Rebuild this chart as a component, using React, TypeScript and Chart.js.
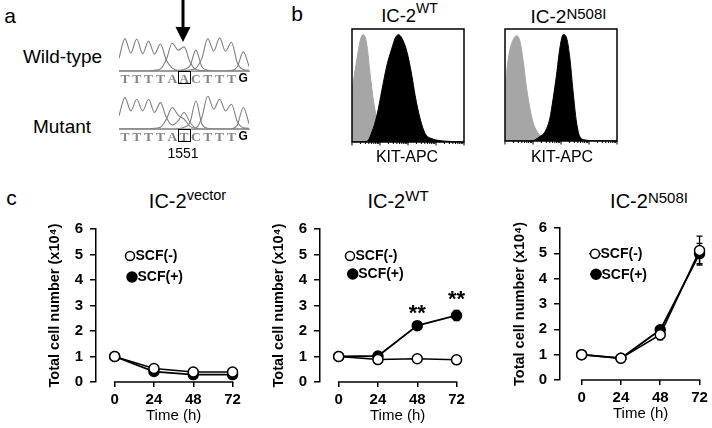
import React, { useEffect, useRef } from "react";
import { Chart, registerables } from "chart.js";

Chart.register(...registerables);

const SANS = '"Liberation Sans", Arial, Helvetica, sans-serif';
const SERIF = '"Liberation Serif", "Times New Roman", serif';
Chart.defaults.font.family = SANS;

// ---------- Panel a: sequencing traces ----------
const wtBases = ["T", "T", "T", "T", "A", "A", "C", "T", "T", "T", "G"];
const mutBases = ["T", "T", "T", "T", "A", "T", "C", "T", "T", "T", "G"];
const chromX = [-0.5, 0, 0.5, 1, 1.5, 2, 2.5, 3, 3.5, 4, 4.5, 5, 5.5, 6, 6.5, 7, 7.5, 8, 8.5, 9, 9.5, 10, 10.5];
const wtTraceT = [0.35, 0.9, 0.5, 0.89, 0.48, 0.83, 0.47, 0.75, 0.3, 0.08, 0.02, 0.02, 0.03, 0.08, 0.35, 0.9, 0.55, 0.92, 0.55, 0.8, 0.22, 0.04, 0.02];
const wtTraceA = [0, 0, 0, 0, 0, 0, 0.02, 0.06, 0.32, 0.77, 0.58, 0.67, 0.25, 0.04, 0.01, 0, 0, 0, 0, 0, 0, 0, 0];
const wtTraceC = [0, 0, 0, 0, 0, 0, 0, 0, 0, 0, 0.01, 0.04, 0.15, 0.58, 0.12, 0.02, 0, 0, 0, 0, 0, 0, 0];
const wtTraceG = [0, 0, 0, 0, 0, 0, 0, 0, 0, 0, 0, 0, 0, 0, 0, 0, 0, 0, 0, 0.01, 0.12, 0.53, 0.12];
const mutTraceT = [0.4, 0.95, 0.55, 0.9, 0.55, 0.9, 0.5, 0.8, 0.35, 0.12, 0.25, 0.5, 0.2, 0.04, 0.35, 1.0, 0.6, 0.9, 0.55, 0.75, 0.22, 0.04, 0.02];
const mutTraceA = [0, 0, 0, 0, 0, 0, 0.02, 0.05, 0.3, 0.65, 0.42, 0.3, 0.08, 0.02, 0, 0, 0, 0, 0, 0, 0, 0, 0];
const mutTraceC = [0, 0, 0, 0, 0, 0, 0, 0, 0, 0, 0.01, 0.05, 0.2, 0.85, 0.15, 0.02, 0, 0, 0, 0, 0, 0, 0];
const mutTraceG = [0, 0, 0, 0, 0, 0, 0, 0, 0, 0, 0, 0, 0, 0, 0, 0, 0, 0, 0, 0.01, 0.12, 0.65, 0.15];
const markedBase = 5;

// ---------- Panel b: KIT-APC histograms ----------
const wtIsoX = [0, 1, 4.5, 7.4, 9.8, 12.8, 16.3, 19.3, 22.3, 26.7, 31, 40, 100];
const wtIsoY = [45, 52, 74, 90, 95, 89, 59, 35.5, 20.7, 9, 3, 0, 0];
const wtKitX = [0, 13.4, 17.8, 22.3, 26.7, 31.2, 35.6, 38.6, 41.5, 44.5, 49, 53.4, 56.4, 60.8, 65.3, 71.2, 78.6, 87.5, 100];
const wtKitY = [0, 0.6, 9, 23.7, 46, 68, 83, 92, 95, 92, 80, 59, 41, 20.7, 7.4, 3, 1.2, 0.5, 0];
const mutIsoX = [0, 0.6, 3, 5.9, 10.4, 13.4, 16.3, 19.3, 22.3, 25.2, 29.7, 34, 40, 100];
const mutIsoY = [45, 53, 74, 87, 94, 89, 71, 47, 29, 16, 7, 2.4, 0.6, 0];
const mutKitX = [0, 20, 26.7, 31, 35.6, 40, 43, 46, 49, 52, 55, 57.9, 60.8, 63.8, 66.8, 71.2, 80, 100];
const mutKitY = [0, 0, 1, 4, 8, 20, 38, 59, 83, 95, 92, 74, 44, 17, 4, 1, 0.3, 0];

// ---------- Panel c: growth curves ----------
const timePoints = [0, 24, 48, 72];
const yTickValues = [0, 1, 2, 3, 4, 5, 6];
const legendLabels = ["SCF(-)", "SCF(+)"];
const vectorMinus = [1.0, 0.53, 0.39, 0.39];
const vectorPlus = [1.0, 0.41, 0.29, 0.29];
const wtMinus = [1.0, 0.88, 0.91, 0.87];
const wtPlus = [1.0, 1.02, 2.21, 2.61];
const wtPlusErr = [0, 0.04, 0.08, 0.2];
const n508iMinus = [1.0, 0.86, 1.79, 5.11];
const n508iMinusErr = [0, 0.03, 0.21, 0.57];
const n508iPlus = [1.0, 0.86, 1.98, 4.99];
const n508iPlusErr = [0, 0.03, 0.08, 0.4];
const starText = "**";
const wtStarIdx = [2, 3];

// ---------- helpers ----------
function ChartBox({ left, top, width, height, make }: any) {
  const ref = useRef<HTMLCanvasElement>(null);
  useEffect(() => {
    const ch = make(ref.current!);
    return () => ch.destroy();
  }, []);
  return (
    <canvas
      ref={ref}
      width={width}
      height={height}
      style={{ position: "absolute", left, top, width, height, display: "block" }}
    />
  );
}

function Txt({ x, y, size, text, align = "center", weight = 400, family = SANS, color = "#000" }: any) {
  const tx = align === "center" ? "translateX(-50%)" : align === "right" ? "translateX(-100%)" : "none";
  return (
    <div
      style={{
        position: "absolute",
        left: x,
        top: y - 0.8465 * size,
        fontSize: size,
        lineHeight: 1,
        fontFamily: family,
        fontWeight: weight,
        color,
        whiteSpace: "nowrap",
        transform: tx,
      }}
    >
      {text}
    </div>
  );
}

function SupTitle({ x, y, size, main, sup, supSize, raise }: any) {
  return (
    <div
      style={{
        position: "absolute",
        left: x,
        top: y - 0.8465 * size,
        fontSize: size,
        lineHeight: 1,
        fontFamily: SANS,
        color: "#000",
        whiteSpace: "nowrap",
        transform: "translateX(-50%)",
      }}
    >
      {main}
      <span style={{ fontSize: supSize, position: "relative", top: -raise, lineHeight: 1 }}>{sup}</span>
    </div>
  );
}

const boxMarkPlugin = {
  id: "boxMark",
  afterDraw(chart: any) {
    const { ctx, chartArea: a, scales } = chart;
    const x = scales.x.getPixelForValue(markedBase);
    ctx.save();
    ctx.strokeStyle = "#000";
    ctx.lineWidth = 1;
    ctx.strokeRect(Math.round(x - 6) + 0.5, Math.round(a.bottom) + 0.5, 12, 12);
    ctx.restore();
  },
};

const makeChrom = (bases: string[], traces: number[][]) => (canvas: HTMLCanvasElement) =>
  new Chart(canvas, {
    type: "line",
    data: {
      datasets: traces.map((t) => ({
        data: chromX.map((x, i) => ({ x, y: t[i] })),
        borderColor: "#808080",
        borderWidth: 1.1,
        pointRadius: 0,
        tension: 0.4,
        cubicInterpolationMode: "monotone",
        fill: false,
      })),
    } as any,
    options: {
      responsive: false,
      animation: false,
      events: [],
      layout: { padding: { left: 4, right: 5.8, top: 5, bottom: 0 } },
      plugins: { legend: { display: false }, tooltip: { enabled: false } },
      scales: {
        x: {
          type: "linear",
          min: -0.5,
          max: 10.5,
          afterBuildTicks: (s: any) => {
            s.ticks = bases.map((_, i) => ({ value: i }));
          },
          afterFit: (s: any) => {
            s.height = 19;
          },
          grid: { drawOnChartArea: false, drawTicks: false },
          border: { display: true, color: "#9a9a9a", width: 1 },
          ticks: {
            autoSkip: false,
            maxRotation: 0,
            padding: 0,
            callback: (v: any) => bases[v],
            color: (c: any) => (c.index === 10 ? "#000" : "#858585"),
            font: (c: any) =>
              c.index === 10
                ? { family: SANS, weight: "bold", size: 12 }
                : { family: SERIF, weight: "bold", size: 13.5 },
          },
        },
        y: { display: false, min: 0, max: 1 },
      },
    } as any,
    plugins: [boxMarkPlugin],
  });

const histMinor = [0.301, 0.477, 0.602, 0.699, 0.778, 0.845, 0.903, 0.954];
const histFramePlugin = {
  id: "histFrame",
  afterDraw(chart: any) {
    const { ctx, chartArea: a, scales } = chart;
    ctx.save();
    ctx.strokeStyle = "#000";
    ctx.lineWidth = 1.5;
    ctx.strokeRect(a.left, a.top, a.right - a.left, a.bottom - a.top);
    ctx.lineWidth = 1;
    ctx.beginPath();
    for (let d = 0; d < 4; d++) {
      const base = d * 25;
      const xs = scales.x.getPixelForValue(base);
      ctx.moveTo(xs, a.bottom);
      ctx.lineTo(xs, a.bottom + 3.5);
      histMinor.forEach((m) => {
        const xm = scales.x.getPixelForValue(base + m * 25);
        ctx.moveTo(xm, a.bottom);
        ctx.lineTo(xm, a.bottom + 2);
      });
    }
    const xe = scales.x.getPixelForValue(100);
    ctx.moveTo(xe, a.bottom);
    ctx.lineTo(xe, a.bottom + 3.5);
    ctx.stroke();
    ctx.restore();
  },
};

const makeHist = (isoX: number[], isoY: number[], kitX: number[], kitY: number[]) => (canvas: HTMLCanvasElement) =>
  new Chart(canvas, {
    type: "line",
    data: {
      datasets: [
        {
          data: kitX.map((x, i) => ({ x, y: kitY[i] })),
          borderColor: "#000",
          backgroundColor: "#000",
          fill: "origin",
          borderWidth: 1,
          pointRadius: 0,
          tension: 0.4,
          cubicInterpolationMode: "monotone",
        },
        {
          data: isoX.map((x, i) => ({ x, y: isoY[i] })),
          borderColor: "#a6a6a6",
          backgroundColor: "#a6a6a6",
          fill: "origin",
          borderWidth: 1,
          pointRadius: 0,
          tension: 0.4,
          cubicInterpolationMode: "monotone",
        },
      ],
    } as any,
    options: {
      responsive: false,
      animation: false,
      events: [],
      layout: { padding: { left: 2, right: 2, top: 2, bottom: 6 } },
      plugins: { legend: { display: false }, tooltip: { enabled: false } },
      scales: {
        x: { type: "linear", display: false, min: 0, max: 100 },
        y: { display: false, min: 0, max: 100 },
      },
    } as any,
    plugins: [histFramePlugin],
  });

type Growth = {
  minus: number[];
  plus: number[];
  minusErr?: number[];
  plusErr?: number[];
  yWidth: number;
  padTop: number;
  padRight: number;
  xHeight: number;
  xMin: number;
  xMax: number;
  legend: { dx: number; dy: number }[];
  legendLine?: boolean;
  stars?: number[];
};

const makeDecor = (p: Growth) => ({
  id: "growthDecor",
  beforeDatasetsDraw(chart: any) {
    const { ctx, scales } = chart;
    const { x, y } = scales;
    ctx.save();
    ctx.strokeStyle = "#000";
    ctx.lineWidth = 1.3;
    [p.minusErr, p.plusErr].forEach((errs, di) => {
      if (!errs) return;
      const vals = di === 0 ? p.minus : p.plus;
      errs.forEach((e, j) => {
        if (!e) return;
        const px = x.getPixelForValue(timePoints[j]);
        const t = y.getPixelForValue(vals[j] + e);
        const b = y.getPixelForValue(vals[j] - e);
        ctx.beginPath();
        ctx.moveTo(px, t);
        ctx.lineTo(px, b);
        ctx.moveTo(px - 3, t);
        ctx.lineTo(px + 3, t);
        ctx.moveTo(px - 3, b);
        ctx.lineTo(px + 3, b);
        ctx.stroke();
      });
    });
    ctx.restore();
  },
  afterDraw(chart: any) {
    const { ctx, chartArea: a, scales } = chart;
    const { x, y } = scales;
    ctx.save();
    // x axis line from first to last time point
    ctx.strokeStyle = "#000";
    ctx.lineWidth = 1.5;
    ctx.beginPath();
    ctx.moveTo(x.getPixelForValue(timePoints[0]) - 0.75, a.bottom);
    ctx.lineTo(x.getPixelForValue(timePoints[timePoints.length - 1]) + 0.75, a.bottom);
    ctx.stroke();
    // x axis title
    ctx.fillStyle = "#000";
    ctx.font = `15px ${SANS}`;
    ctx.textAlign = "center";
    ctx.textBaseline = "middle";
    const cx = (x.getPixelForValue(timePoints[0]) + x.getPixelForValue(timePoints[timePoints.length - 1])) / 2;
    ctx.fillText("Time (h)", cx, a.bottom + 34);
    // legend
    p.legend.forEach((L, i) => {
      const mx = a.left + L.dx;
      const my = a.top + L.dy;
      if (p.legendLine) {
        ctx.lineWidth = 1.5;
        ctx.beginPath();
        ctx.moveTo(mx - 6, my);
        ctx.lineTo(mx + 6, my);
        ctx.stroke();
      }
      ctx.beginPath();
      ctx.arc(mx, my, i === 0 ? 4.5 : 5, 0, Math.PI * 2);
      ctx.fillStyle = i === 0 ? "#fff" : "#000";
      ctx.fill();
      ctx.lineWidth = 1.5;
      ctx.strokeStyle = "#000";
      ctx.stroke();
      ctx.fillStyle = "#000";
      ctx.font = `bold 14px ${SANS}`;
      ctx.textAlign = "left";
      ctx.textBaseline = "middle";
      ctx.fillText(legendLabels[i], mx + 5.5, my + 0.5);
    });
    // significance stars
    if (p.stars) {
      ctx.font = `bold 22px ${SANS}`;
      ctx.textAlign = "center";
      ctx.textBaseline = "alphabetic";
      p.stars.forEach((j) => {
        const e = p.plusErr ? p.plusErr[j] : 0;
        const px = x.getPixelForValue(timePoints[j]);
        const py = y.getPixelForValue(p.plus[j] + e);
        ctx.fillText(starText, px, py - 4);
      });
    }
    ctx.restore();
  },
});

const makeGrowth = (p: Growth) => (canvas: HTMLCanvasElement) =>
  new Chart(canvas, {
    type: "line",
    data: {
      datasets: [
        {
          label: legendLabels[0],
          data: timePoints.map((t, i) => ({ x: t, y: p.minus[i] })),
          borderColor: "#000",
          borderWidth: 1.6,
          pointRadius: 5,
          pointBackgroundColor: "#fff",
          pointBorderColor: "#000",
          pointBorderWidth: 1.5,
          clip: false,
        },
        {
          label: legendLabels[1],
          data: timePoints.map((t, i) => ({ x: t, y: p.plus[i] })),
          borderColor: "#000",
          borderWidth: 1.8,
          pointRadius: 5,
          pointBackgroundColor: "#000",
          pointBorderColor: "#000",
          pointBorderWidth: 1.5,
          clip: false,
        },
      ],
    } as any,
    options: {
      responsive: false,
      animation: false,
      events: [],
      layout: { padding: { left: 0, right: p.padRight, top: p.padTop, bottom: 0 } },
      plugins: { legend: { display: false }, tooltip: { enabled: false } },
      scales: {
        x: {
          type: "linear",
          min: p.xMin,
          max: p.xMax,
          afterBuildTicks: (s: any) => {
            s.ticks = timePoints.map((v) => ({ value: v }));
          },
          afterFit: (s: any) => {
            s.height = p.xHeight;
          },
          grid: { drawOnChartArea: false, drawTicks: true, tickLength: 5, color: "#000", lineWidth: 1.5 },
          border: { display: false },
          ticks: {
            autoSkip: false,
            maxRotation: 0,
            padding: 4,
            color: "#000",
            font: { family: SANS, weight: "bold", size: 15 },
          },
        },
        y: {
          min: 0,
          max: 6,
          afterBuildTicks: (s: any) => {
            s.ticks = yTickValues.map((v) => ({ value: v }));
          },
          afterFit: (s: any) => {
            s.width = p.yWidth;
          },
          grid: { drawOnChartArea: false, tickLength: 6, color: "#000", lineWidth: 1.5 },
          border: { display: true, color: "#000", width: 1.5 },
          ticks: { padding: 7, color: "#000", font: { family: SANS, weight: "bold", size: 15 } },
          title: {
            display: true,
            text: "Total cell number (x10\u2074)",
            color: "#000",
            font: { family: SANS, weight: "bold", size: 14.5 },
            padding: { top: 4, bottom: 4 },
          },
        },
      },
    } as any,
    plugins: [makeDecor(p)],
  });

const growthVector: Growth = {
  minus: vectorMinus,
  plus: vectorPlus,
  yWidth: 54,
  padTop: 10,
  padRight: 8.3,
  xHeight: 46,
  xMin: -11.4,
  xMax: 73,
  legend: [
    { dx: 34, dy: 27 },
    { dx: 36, dy: 48 },
  ],
};
const growthWT: Growth = {
  minus: wtMinus,
  plus: wtPlus,
  plusErr: wtPlusErr,
  yWidth: 54,
  padTop: 10,
  padRight: 8,
  xHeight: 46,
  xMin: -11.4,
  xMax: 73.2,
  legend: [
    { dx: 30, dy: 27 },
    { dx: 32.7, dy: 45 },
  ],
  stars: wtStarIdx,
};
const growthN508I: Growth = {
  minus: n508iMinus,
  plus: n508iPlus,
  minusErr: n508iMinusErr,
  plusErr: n508iPlusErr,
  yWidth: 53,
  padTop: 10,
  padRight: 8,
  xHeight: 48,
  xMin: -13.2,
  xMax: 73.2,
  legend: [
    { dx: 35, dy: 25.7 },
    { dx: 36, dy: 46.3 },
  ],
  legendLine: true,
};

export default function App() {
  useEffect(() => {
    document.body.style.margin = "0";
  }, []);
  return (
    <div
      style={{
        position: "absolute",
        left: 0,
        top: 0,
        width: 712,
        height: 428,
        background: "#fff",
        overflow: "hidden",
        fontFamily: SANS,
      }}
    >
      {/* panel a */}
      <Txt x={10} y={23} size={21} text="a" />
      <Txt x={62.5} y={63} size={19} text="Wild-type" />
      <Txt x={62} y={133} size={19} text="Mutant" />
      <svg width={712} height={428} style={{ position: "absolute", left: 0, top: 0 }}>
        <line x1={183} y1={0} x2={183} y2={29} stroke="#000" strokeWidth={3} />
        <polygon points="175.5,27 190.5,27 183,42" fill="#000" />
      </svg>
      <ChartBox left={115} top={30} width={140} height={60} make={makeChrom(wtBases, [wtTraceT, wtTraceA, wtTraceC, wtTraceG])} />
      <ChartBox left={115} top={91} width={140} height={57} make={makeChrom(mutBases, [mutTraceT, mutTraceA, mutTraceC, mutTraceG])} />
      <Txt x={183} y={158} size={14} text="1551" />

      {/* panel b */}
      <Txt x={297} y={20.7} size={21} text="b" />
      <SupTitle x={409.5} y={23} size={18.5} main="IC-2" sup="WT" supSize={14} raise={9} />
      <SupTitle x={568.5} y={23} size={19} main="IC-2" sup="N508I" supSize={15} raise={4} />
      <ChartBox left={350} top={27} width={116} height={121} make={makeHist(wtIsoX, wtIsoY, wtKitX, wtKitY)} />
      <ChartBox left={503} top={27} width={116} height={120} make={makeHist(mutIsoX, mutIsoY, mutKitX, mutKitY)} />
      <Txt x={407} y={163} size={16} text="KIT-APC" />
      <Txt x={562} y={163} size={16} text="KIT-APC" />

      {/* panel c */}
      <Txt x={11.5} y={205} size={21} text="c" />
      <SupTitle x={187.5} y={208} size={20} main="IC-2" sup="vector" supSize={14.5} raise={8} />
      <SupTitle x={398} y={208} size={20} main="IC-2" sup="WT" supSize={15} raise={7} />
      <SupTitle x={649} y={208} size={20} main="IC-2" sup="N508I" supSize={15} raise={5} />
      <ChartBox left={42} top={213} width={203} height={215} make={makeGrowth(growthVector)} />
      <ChartBox left={266} top={213} width={203} height={215} make={makeGrowth(growthWT)} />
      <ChartBox left={507} top={212} width={205} height={216} make={makeGrowth(growthN508I)} />
    </div>
  );
}
